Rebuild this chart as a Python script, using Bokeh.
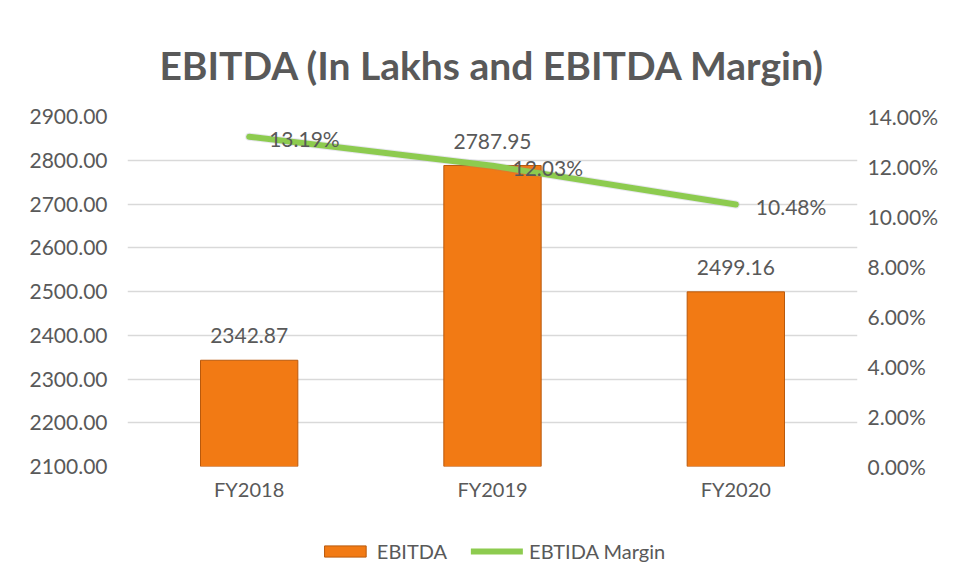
from bokeh.plotting import figure
from bokeh.layouts import column
from bokeh.models import (FactorRange, Range1d, LinearAxis, FixedTicker,
                          PrintfTickFormatter, Legend, LegendItem, ColumnDataSource)
from bokeh.embed import file_html
from bokeh.resources import INLINE
from bokeh.core.properties import value

# ---- data ----
categories = ["FY2018", "FY2019", "FY2020"]
ebitda = [2342.87, 2787.95, 2499.16]
margin_pct = [13.19, 12.03, 10.48]
ebitda_labels = ["2342.87", "2787.95", "2499.16"]
margin_labels = ["13.19%", "12.03%", "10.48%"]
left_ticks = [2100, 2200, 2300, 2400, 2500, 2600, 2700, 2800, 2900]
right_ticks = [0, 2, 4, 6, 8, 10, 12, 14]
y_start, y_end = 2100, 2900
pct_start, pct_end = 0, 14
series_names = ["EBITDA", "EBTIDA Margin"]

FONT = "Lato"
TXT = "#595959"
BAR = "#F27A14"
BAR_EDGE = "#B9590C"
LINE = "#8DCB4F"

src = ColumnDataSource(dict(cat=categories, ebitda=ebitda, margin=margin_pct,
                            el=ebitda_labels, ml=margin_labels))

p = figure(x_range=FactorRange(*categories), y_range=Range1d(y_start, y_end),
           width=941, height=506, output_backend="svg", toolbar_location=None,
           title="EBITDA (In Lakhs and EBITDA Margin)")
p.extra_y_ranges = {"pct": Range1d(pct_start, pct_end)}

p.min_border_left = 127
p.min_border_right = 83
p.min_border_top = 116
p.min_border_bottom = 40
p.outline_line_color = None
p.background_fill_color = "white"
p.border_fill_color = "white"

p.title.text_font = FONT
p.title.text_font_style = "bold"
p.title.text_font_size = "39px"
p.title.text_color = TXT
p.title.align = "center"
p.title.vertical_align = "bottom"
p.title.standoff = 58

# left axis
ya = p.yaxis[0]
ya.ticker = FixedTicker(ticks=left_ticks)
ya.formatter = PrintfTickFormatter(format="%.2f")
# right axis
ra = LinearAxis(y_range_name="pct", ticker=FixedTicker(ticks=right_ticks),
                formatter=PrintfTickFormatter(format="%.2f%%"))
p.add_layout(ra, "right")

for ax in [ya, ra]:
    ax.axis_line_color = None
    ax.major_tick_line_color = None
    ax.minor_tick_line_color = None
    ax.major_tick_out = 0
    ax.major_tick_in = 0
    ax.major_label_text_font = FONT
    ax.major_label_text_font_size = "21px"
    ax.major_label_text_color = TXT
ya.major_label_standoff = 20
ra.major_label_standoff = 10

xa = p.xaxis[0]
xa.axis_line_color = None
xa.major_tick_line_color = None
xa.major_tick_out = 0
xa.major_label_text_font = FONT
xa.major_label_text_font_size = "20px"
xa.major_label_text_color = TXT
xa.major_label_standoff = 10

p.xgrid.grid_line_color = None
p.ygrid.ticker = FixedTicker(ticks=left_ticks)
p.ygrid.grid_line_color = "#d9d9d9"
p.ygrid.grid_line_width = 1.5

p.vbar(x="cat", top="ebitda", bottom=y_start, width=0.4, source=src,
       fill_color=BAR, line_color=BAR_EDGE, line_width=1)
p.line(x="cat", y="margin", y_range_name="pct", source=src,
       line_width=8, color="#7a7aa0", alpha=0.18, line_cap="round")
p.line(x="cat", y="margin", y_range_name="pct", source=src,
       line_width=6, color=LINE, line_cap="round")

p.text(x="cat", y="ebitda", text="el", source=src, text_align="center",
       text_baseline="bottom", y_offset=-17, text_font=value(FONT),
       text_font_size="21px", text_color=TXT)
p.text(x="cat", y="margin", text="ml", source=src, y_range_name="pct",
       text_align="left", text_baseline="middle", x_offset=20, y_offset=2,
       text_font=value(FONT), text_font_size="21px", text_color=TXT)

# ---- legend strip below the chart ----
lf = figure(width=941, height=60, output_backend="svg", toolbar_location=None,
            x_axis_location=None, y_axis_location=None,
            x_range=Range1d(0, 1), y_range=Range1d(0, 1))
lf.min_border_left = 127
lf.min_border_right = 83
lf.min_border_top = 0
lf.min_border_bottom = 0
lf.outline_line_color = None
lf.grid.grid_line_color = None
lf.border_fill_color = "white"
# off-range placeholder renderers, used only for the legend swatches
hidden = ColumnDataSource(dict(x=[-5, -4], y=[-5, -4], top=[-5, -4]))
lb = lf.vbar(x="x", top="top", bottom=-6, width=0.1, source=hidden,
             fill_color=BAR, line_color=BAR_EDGE, line_width=1)
ll = lf.line(x="x", y="y", source=hidden, line_width=6, color=LINE,
             line_cap="round")

legend = Legend(items=[LegendItem(label=series_names[0], renderers=[lb]),
                       LegendItem(label=series_names[1], renderers=[ll])],
                orientation="horizontal", location="bottom_center")
legend.border_line_color = None
legend.background_fill_alpha = 0
legend.label_text_font = FONT
legend.label_text_font_size = "20px"
legend.label_text_color = TXT
legend.glyph_width = 52
legend.glyph_height = 14
legend.label_standoff = 6
legend.spacing = 24
legend.padding = 4
legend.margin = 3
lf.add_layout(legend, "center")

layout = column(p, lf, spacing=0)
open("out.html", "w").write(file_html(layout, INLINE))
